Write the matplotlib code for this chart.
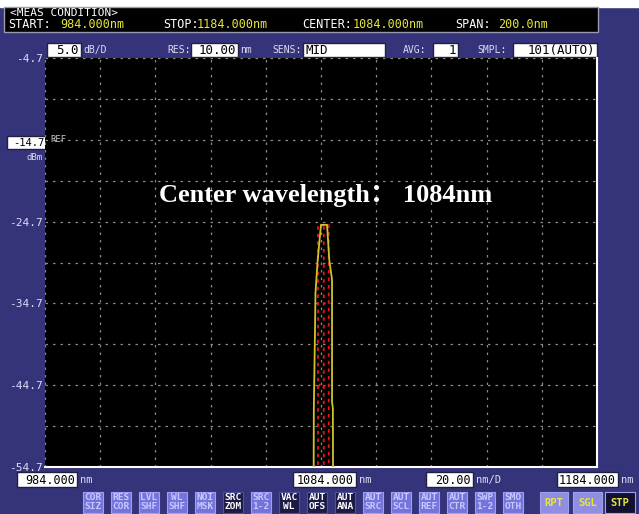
import numpy as np
import matplotlib.pyplot as plt
from matplotlib.patches import Rectangle

# sweep / display settings
start_nm = 984.0
stop_nm = 1184.0
top_dbm = -4.7
db_per_div = 5.0
ref_dbm = -14.7
level_labels = [-4.7, -24.7, -34.7, -44.7, -54.7]

# trace A (yellow, solid)
trace_a_nm = [1081.3, 1081.4, 1081.8, 1082.0, 1082.8, 1084.0, 1086.2,
              1087.0, 1088.0, 1088.0, 1088.3, 1088.4]
trace_a_dbm = [-60.0, -47.7, -38.6, -33.4, -29.4, -25.1, -25.1,
               -29.4, -31.8, -46.8, -47.5, -60.0]

# trace B (red, dashed) - segments split by nan
trace_b_nm = [1082.9, 1082.9, 1086.8, 1086.8, np.nan,
              1085.0, 1085.0, np.nan,
              1082.9, 1084.0, 1085.0]
trace_b_dbm = [-60.0, -25.1, -25.1, -60.0, np.nan,
               -60.0, -25.1, np.nan,
               -44.9, -44.5, -44.9]

header_row1 = "<MEAS CONDITION>"
header_row2 = [("START:", 8, "w"), ("984.000nm", 60, "y"),
               ("STOP:", 163, "w"), ("1184.000nm", 197, "y"),
               ("CENTER:", 302, "w"), ("1084.000nm", 353, "y"),
               ("SPAN:", 455, "w"), ("200.0nm", 498, "y")]

setting_labels = [("dB/D", 83), ("RES:", 167), ("nm", 240), ("SENS:", 272),
                  ("AVG:", 403), ("SMPL:", 477)]
setting_boxes = [(47, 81, "5.0", "right"), (191, 238, "10.00", "right"),
                 (303, 385, "MID", "left"), (433, 458, "1", "right"),
                 (513, 597, "101(AUTO)", "right")]

scale_boxes = [(17, 77, "984.000", "nm"), (293, 356, "1084.000", "nm"),
               (426, 473, "20.00", "nm/D"), (557, 618, "1184.000", "nm")]

soft_keys = [("COR", "SIZ"), ("RES", "COR"), ("LVL", "SHF"), ("WL", "SHF"),
             ("NOI", "MSK"), ("SRC", "ZOM"), ("SRC", "1-2"), ("VAC", "WL"),
             ("AUT", "OFS"), ("AUT", "ANA"), ("AUT", "SRC"), ("AUT", "SCL"),
             ("AUT", "REF"), ("AUT", "CTR"), ("SWP", "1-2"), ("SMO", "OTH")]
dark_keys = {"SRC ZOM", "VAC WL", "AUT OFS", "AUT ANA"}
sweep_keys = [("RPT", 540, 568), ("SGL", 573, 602), ("STP", 605, 635)]

NAVY = "#35347a"
LAV = "#dcdcf6"
YEL = "#e6e63a"
MONO = "DejaVu Sans Mono"

W, H = 639, 514
fig = plt.figure(figsize=(W / 100, H / 100), dpi=100)
fig.patch.set_facecolor(NAVY)

# panel layer in pixel coordinates
pan = fig.add_axes([0, 0, 1, 1], zorder=0)
pan.set_xlim(0, W)
pan.set_ylim(H, 0)
pan.axis("off")

pan.add_patch(Rectangle((0, 0), W, 7, color="white"))
pan.add_patch(Rectangle((4, 7), 594, 25, facecolor="black", edgecolor="#9a9ab0", lw=1))
pan.text(10, 13, header_row1, color="white", fontsize=8, family=MONO, va="center")
for txt, x, c in header_row2:
    pan.text(x, 25, txt, color=YEL if c == "y" else "white", fontsize=8.5,
             family=MONO, va="center")

for txt, x in setting_labels:
    pan.text(x, 50, txt, color=LAV, fontsize=7, family=MONO, va="center")
for x0, x1, txt, ha in setting_boxes:
    pan.add_patch(Rectangle((x0, 43), x1 - x0, 14, facecolor="white", edgecolor="#202040", lw=1))
    tx = x1 - 2 if ha == "right" else x0 + 3
    pan.text(tx, 50.5, txt, color="black", fontsize=9, family=MONO, va="center", ha=ha)

# reference level box on the left
pan.add_patch(Rectangle((7, 136), 39, 13, facecolor="white", edgecolor="#202040", lw=1))
pan.text(44, 142.5, f"{ref_dbm:.1f}", color="black", fontsize=7.5, family=MONO,
         va="center", ha="right")
pan.text(43, 157, "dBm", color=LAV, fontsize=6.5, family=MONO, va="center", ha="right")

# wavelength scale boxes under the grid
for x0, x1, txt, unit in scale_boxes:
    pan.add_patch(Rectangle((x0, 472), x1 - x0, 15, facecolor="white", edgecolor="#202040", lw=1))
    pan.text(x1 - 2, 480, txt, color="black", fontsize=8.5, family=MONO, va="center", ha="right")
    pan.text(x1 + 3, 480, unit, color=LAV, fontsize=7.5, family=MONO, va="center")

# soft keys
for i, (a, b) in enumerate(soft_keys):
    x0 = 83 + 28 * i
    dark = f"{a} {b}" in dark_keys
    fg = "white" if dark else "#c8c8ff"
    pan.add_patch(Rectangle((x0, 492), 20, 21,
                            facecolor="#1c1b48" if dark else "#7474dc",
                            edgecolor="#a0a0f0" if not dark else "#5050a0", lw=0.8))
    pan.text(x0 + 10, 497.5, a, color=fg, fontsize=6.8, family=MONO,
             ha="center", va="center", fontweight="bold")
    pan.text(x0 + 10, 506.5, b, color=fg, fontsize=6.8, family=MONO,
             ha="center", va="center", fontweight="bold")
for txt, x0, x1 in sweep_keys:
    dark = txt == "STP"
    pan.add_patch(Rectangle((x0, 492), x1 - x0, 21,
                            facecolor="#121230" if dark else "#8f8ee0",
                            edgecolor="#a0a0f0", lw=0.8))
    pan.text((x0 + x1) / 2, 502.5, txt, color=YEL, fontsize=7.5, family=MONO,
             ha="center", va="center", fontweight="bold")

# main trace display
L, R, T, B = 45, 597, 58, 467
ax = fig.add_axes([L / W, 1 - B / H, (R - L) / W, (B - T) / H], zorder=1)
ax.set_facecolor("black")
ax.set_xlim(start_nm, stop_nm)
ax.set_ylim(top_dbm - 10 * db_per_div, top_dbm)

ax.set_xticks(np.linspace(start_nm, stop_nm, 11))
ax.set_xticklabels([])
yt = top_dbm - db_per_div * np.arange(11)
ax.set_yticks(yt)
ax.set_yticklabels([f"{v:.1f}" if round(v, 1) in level_labels else "" for v in yt])
ax.tick_params(length=0, pad=1.5, labelcolor=LAV, labelsize=8)
for lab in ax.get_yticklabels():
    lab.set_family(MONO)
ax.grid(True, color="#8a8a8a", linestyle=(0, (2, 4)), linewidth=0.9)

for s in ("top", "left"):
    ax.spines[s].set_visible(False)
for s in ("bottom", "right"):
    ax.spines[s].set_color("white")
    ax.spines[s].set_linewidth(1.5)

ax.plot(trace_b_nm, trace_b_dbm, color="#e01818", lw=1.3, linestyle=(0, (2, 2.2)), zorder=3)
ax.plot(trace_a_nm, trace_a_dbm, color="#cfc32a", lw=1.3, zorder=4)

ax.text(start_nm + 1.8, ref_dbm, "REF", color="#c8c8c8", fontsize=6.5, family=MONO, va="center")

ax.text(0.509, 0.665, "Center wavelength\uff1a 1084nm", transform=ax.transAxes,
        color="white", fontsize=19, fontweight="bold",
        family=["Liberation Serif", "Noto Sans CJK SC"], ha="center", va="center")

fig.savefig("out.png", dpi=100, facecolor=fig.get_facecolor())
